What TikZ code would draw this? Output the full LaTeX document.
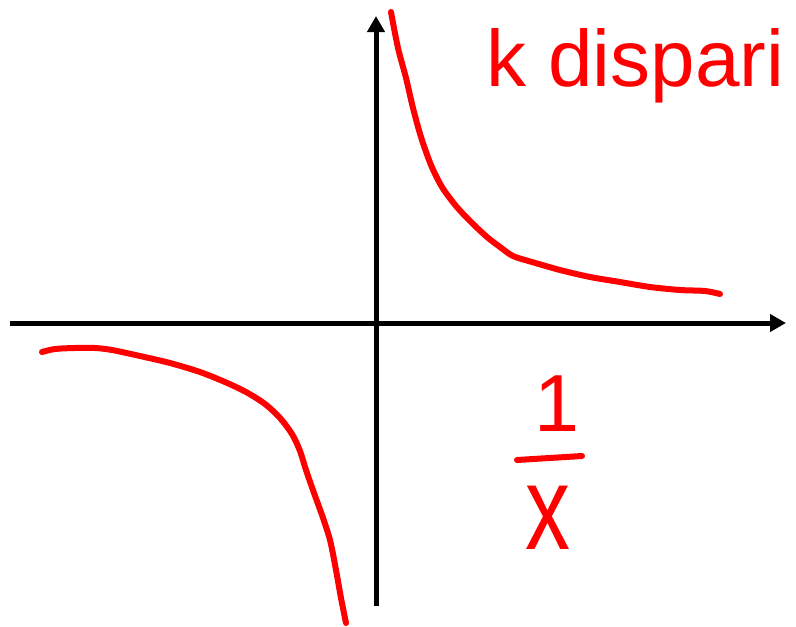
\documentclass[tikz,border=0pt]{standalone}
\usepackage{fontspec}
\setmainfont{Liberation Sans}
\usetikzlibrary{arrows.meta}
\definecolor{inkred}{RGB}{255,0,0}
\tikzset{
  axis/.style={line width=5pt, -{Triangle[length=16pt,width=17pt]}},
  ink/.style={inkred, line width=6pt, line cap=round, line join=round},
  inktext/.style={inkred, inner sep=0pt}
}
\begin{document}
\begin{tikzpicture}[x=1pt,y=-1pt]
\useasboundingbox (0,0) rectangle (796,627);
\coordinate (xs) at (10,323);
\coordinate (xe) at (786,323);
\coordinate (ys) at (376,606);
\coordinate (ye) at (376,16);
\draw[axis] (xs) -- (xe);
\draw[axis] (ys) -- (ye);
% upper right branch
\draw[ink] plot[smooth, tension=0.5] coordinates {
 (391,12) (398,48) (406,78) (413,108) (421,137) (431,165) (442,187)
 (456,206) (471,222) (487,237) (500,247) (513,256) (532,262) (560,270)
 (590,277) (620,282) (650,287) (680,290) (705,291) (720,294)};
% lower left branch
\draw[ink] plot[smooth, tension=0.5] coordinates {
 (42,352) (55,349) (75,348) (95,348) (112,350) (140,356) (170,363)
 (200,372) (225,382) (246,392) (265,404) (280,418) (292,434) (300,451)
 (306,470) (314,493) (322,515) (330,540) (336,570) (341,598) (346,623)};
% labels
\node[inktext, anchor=base west, font=\fontsize{80}{84}\selectfont] (lbl) at (486,86) {k dispari};
\node[inktext, font=\fontsize{81}{85}\selectfont] (num) at (557,404) {1};
\coordinate (b1) at (517,460);
\coordinate (b2) at (582,456);
\draw[ink] (b1) -- (b2);
\node[inktext, xscale=0.75, font=\fontsize{120}{125}\selectfont] (den) at (548,518) {x};
\end{tikzpicture}
\end{document}
